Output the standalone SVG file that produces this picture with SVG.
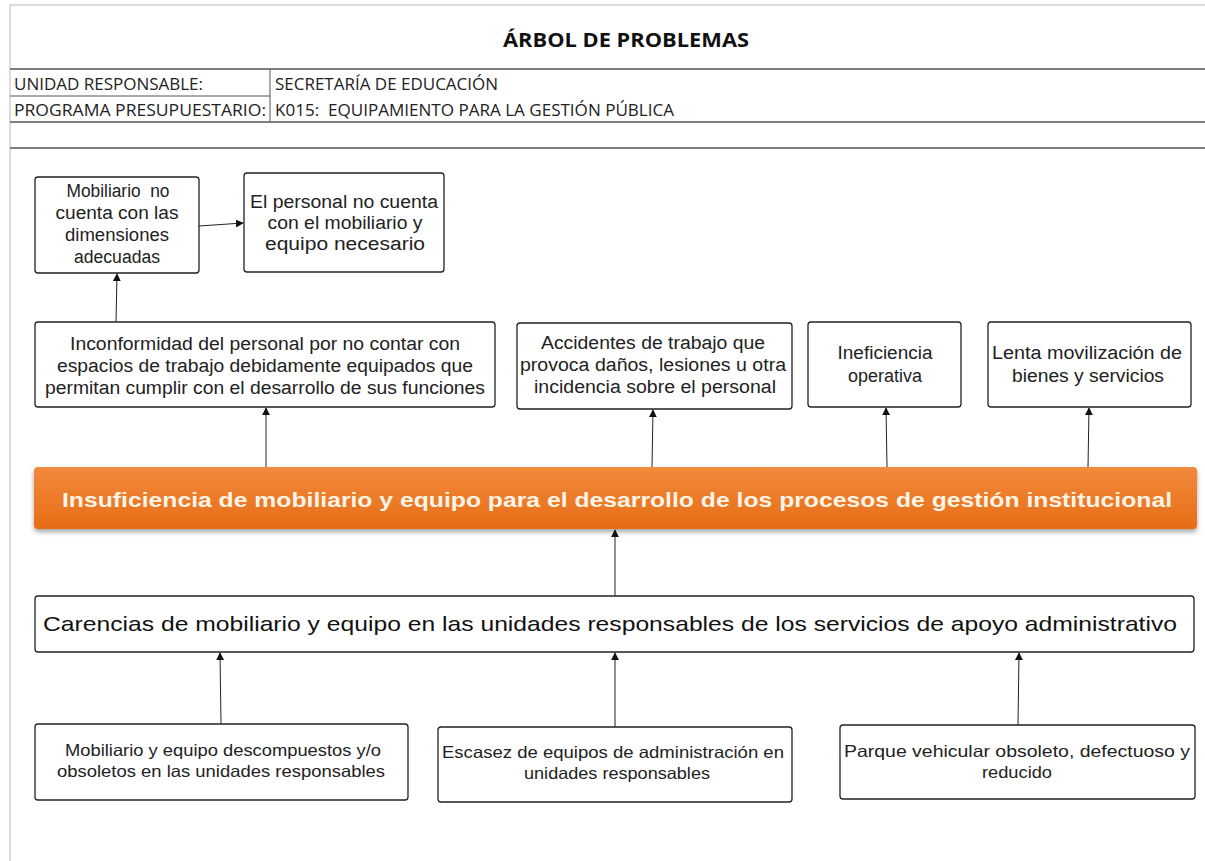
<svg xmlns="http://www.w3.org/2000/svg" width="1205" height="861" viewBox="0 0 1205 861">
<defs>
<linearGradient id="og" x1="0" y1="0" x2="0" y2="1">
<stop offset="0" stop-color="#f38a3d"/>
<stop offset="1" stop-color="#e66d15"/>
</linearGradient>
<filter id="sh" x="-5%" y="-20%" width="110%" height="160%">
<feDropShadow dx="0" dy="3" stdDeviation="2.5" flood-color="#000" flood-opacity="0.35"/>
</filter>
<marker id="ah" viewBox="0 0 10 10" refX="9" refY="5" markerWidth="8" markerHeight="8" orient="auto" markerUnits="userSpaceOnUse">
<path d="M0,0 L10,5 L0,10 z" fill="#111"/>
</marker>
</defs>
<style>
.hdr{font-family:"Open Sans","Liberation Sans",sans-serif;font-size:16px;fill:#222}
.ttl{font-family:"Open Sans","Liberation Sans",sans-serif;font-size:20px;font-weight:bold;fill:#111;text-anchor:middle}
.box{fill:#fff;stroke:#222;stroke-width:1.3}
.t{font-family:"Liberation Sans",Arial,sans-serif;font-size:18px;fill:#222;text-anchor:middle}
.s{font-family:"Liberation Sans",Arial,sans-serif;font-size:16.5px;fill:#222;text-anchor:middle}
.tb{font-family:"Liberation Sans",Arial,sans-serif;font-size:21px;fill:#111;text-anchor:middle}
.to{font-family:"Liberation Sans",Arial,sans-serif;font-size:21px;font-weight:bold;fill:#fff4e6;text-anchor:middle}
.c{stroke:#222;stroke-width:1;fill:none;marker-end:url(#ah)}
.gl{stroke:#d0d0d0;stroke-width:1.5}
.hl{stroke:#555;stroke-width:1.5}
</style>
<rect width="1205" height="861" fill="#fff"/>
<g id="frame">
<line class="gl" x1="10" y1="5" x2="1205" y2="5"/>
<line class="gl" x1="10" y1="5" x2="10" y2="861"/>
<line class="hl" x1="10" y1="69" x2="1205" y2="69"/>
<line class="hl" x1="10" y1="96" x2="270" y2="96" style="stroke-width:1"/>
<line class="hl" x1="10" y1="122" x2="1205" y2="122"/>
<line class="hl" x1="10" y1="148" x2="1205" y2="148"/>
<line class="hl" x1="270" y1="69" x2="270" y2="122" style="stroke-width:1"/>
<text class="ttl" x="626" y="47" textLength="246" lengthAdjust="spacingAndGlyphs">ÁRBOL DE PROBLEMAS</text>
<text class="hdr" x="14" y="90" textLength="189" lengthAdjust="spacingAndGlyphs">UNIDAD RESPONSABLE:</text>
<text class="hdr" x="275" y="90" textLength="223" lengthAdjust="spacingAndGlyphs">SECRETARÍA DE EDUCACIÓN</text>
<text class="hdr" x="14" y="116" textLength="252" lengthAdjust="spacingAndGlyphs">PROGRAMA PRESUPUESTARIO:</text>
<text class="hdr" x="275" y="116" textLength="399" lengthAdjust="spacingAndGlyphs">K015:&#160; EQUIPAMIENTO PARA LA GESTIÓN PÚBLICA</text>
</g>
<g id="connectors">
<line class="c" x1="199" y1="226" x2="243" y2="223"/>
<line class="c" x1="116" y1="322" x2="117" y2="274"/>
<line class="c" x1="266" y1="467" x2="266" y2="408"/>
<line class="c" x1="652" y1="467" x2="653" y2="410"/>
<line class="c" x1="887" y1="467" x2="886" y2="408"/>
<line class="c" x1="1088" y1="467" x2="1089" y2="408"/>
<line class="c" x1="615" y1="596" x2="615" y2="530"/>
<line class="c" x1="221" y1="724" x2="220" y2="653"/>
<line class="c" x1="615" y1="727" x2="615" y2="653"/>
<line class="c" x1="1018" y1="725" x2="1019" y2="653"/>
</g>
<g id="n-mobiliario-dim">
<rect class="box" x="35" y="177" width="164" height="96" rx="3"/>
<text class="t" x="118" y="197" textLength="103" lengthAdjust="spacingAndGlyphs">Mobiliario&#160; no</text>
<text class="t" x="117" y="219" textLength="123" lengthAdjust="spacingAndGlyphs">cuenta con las</text>
<text class="t" x="117" y="241" textLength="104" lengthAdjust="spacingAndGlyphs">dimensiones</text>
<text class="t" x="117" y="263" textLength="86" lengthAdjust="spacingAndGlyphs">adecuadas</text>
</g>
<g id="n-personal">
<rect class="box" x="244" y="173" width="200" height="99" rx="3"/>
<text class="t" x="344" y="208" textLength="188" lengthAdjust="spacingAndGlyphs">El personal no cuenta</text>
<text class="t" x="345" y="229" textLength="155" lengthAdjust="spacingAndGlyphs">con el mobiliario y</text>
<text class="t" x="345" y="250" textLength="160" lengthAdjust="spacingAndGlyphs">equipo necesario</text>
</g>
<g id="n-inconformidad">
<rect class="box" x="35" y="322" width="460" height="85" rx="3"/>
<text class="t" x="265" y="350" textLength="390" lengthAdjust="spacingAndGlyphs">Inconformidad del personal por no contar con</text>
<text class="t" x="265" y="372" textLength="416" lengthAdjust="spacingAndGlyphs">espacios de trabajo debidamente equipados que</text>
<text class="t" x="265" y="394" textLength="440" lengthAdjust="spacingAndGlyphs">permitan cumplir con el desarrollo de sus funciones</text>
</g>
<g id="n-accidentes">
<rect class="box" x="517" y="323" width="275" height="86" rx="3"/>
<text class="t" x="653" y="349" textLength="224" lengthAdjust="spacingAndGlyphs">Accidentes de trabajo que</text>
<text class="t" x="653" y="371" textLength="266" lengthAdjust="spacingAndGlyphs">provoca daños, lesiones u otra</text>
<text class="t" x="655" y="393" textLength="242" lengthAdjust="spacingAndGlyphs">incidencia sobre el personal</text>
</g>
<g id="n-ineficiencia">
<rect class="box" x="808" y="322" width="153" height="85" rx="3"/>
<text class="t" x="885" y="359" textLength="95" lengthAdjust="spacingAndGlyphs">Ineficiencia</text>
<text class="t" x="885" y="382" textLength="74" lengthAdjust="spacingAndGlyphs">operativa</text>
</g>
<g id="n-lenta">
<rect class="box" x="988" y="322" width="203" height="85" rx="3"/>
<text class="t" x="1087" y="359" textLength="190" lengthAdjust="spacingAndGlyphs">Lenta movilización de</text>
<text class="t" x="1088" y="382" textLength="152" lengthAdjust="spacingAndGlyphs">bienes y servicios</text>
</g>
<g id="n-problema">
<rect x="34" y="467" width="1163" height="62" rx="4" fill="url(#og)" filter="url(#sh)"/>
<text class="to" x="617" y="507" textLength="1110" lengthAdjust="spacingAndGlyphs">Insuficiencia de mobiliario y equipo para el desarrollo de los procesos de gestión institucional</text>
</g>
<g id="n-carencias">
<rect class="box" x="35" y="596" width="1159" height="56" rx="3"/>
<text class="tb" x="610" y="631" textLength="1134" lengthAdjust="spacingAndGlyphs">Carencias de mobiliario y equipo en las unidades responsables de los servicios de apoyo administrativo</text>
</g>
<g id="n-descompuestos">
<rect class="box" x="35" y="724" width="373" height="76" rx="3"/>
<text class="s" x="223" y="756" textLength="316" lengthAdjust="spacingAndGlyphs">Mobiliario y equipo descompuestos y/o</text>
<text class="s" x="221" y="777" textLength="328" lengthAdjust="spacingAndGlyphs">obsoletos en las unidades responsables</text>
</g>
<g id="n-escasez">
<rect class="box" x="438" y="727" width="354" height="75" rx="3"/>
<text class="s" x="613" y="758" textLength="342" lengthAdjust="spacingAndGlyphs">Escasez de equipos de administración en</text>
<text class="s" x="617" y="779" textLength="186" lengthAdjust="spacingAndGlyphs">unidades responsables</text>
</g>
<g id="n-parque">
<rect class="box" x="840" y="725" width="355" height="74" rx="3"/>
<text class="s" x="1017" y="757" textLength="346" lengthAdjust="spacingAndGlyphs">Parque vehicular obsoleto, defectuoso y</text>
<text class="s" x="1017" y="778" textLength="70" lengthAdjust="spacingAndGlyphs">reducido</text>
</g>
</svg>
